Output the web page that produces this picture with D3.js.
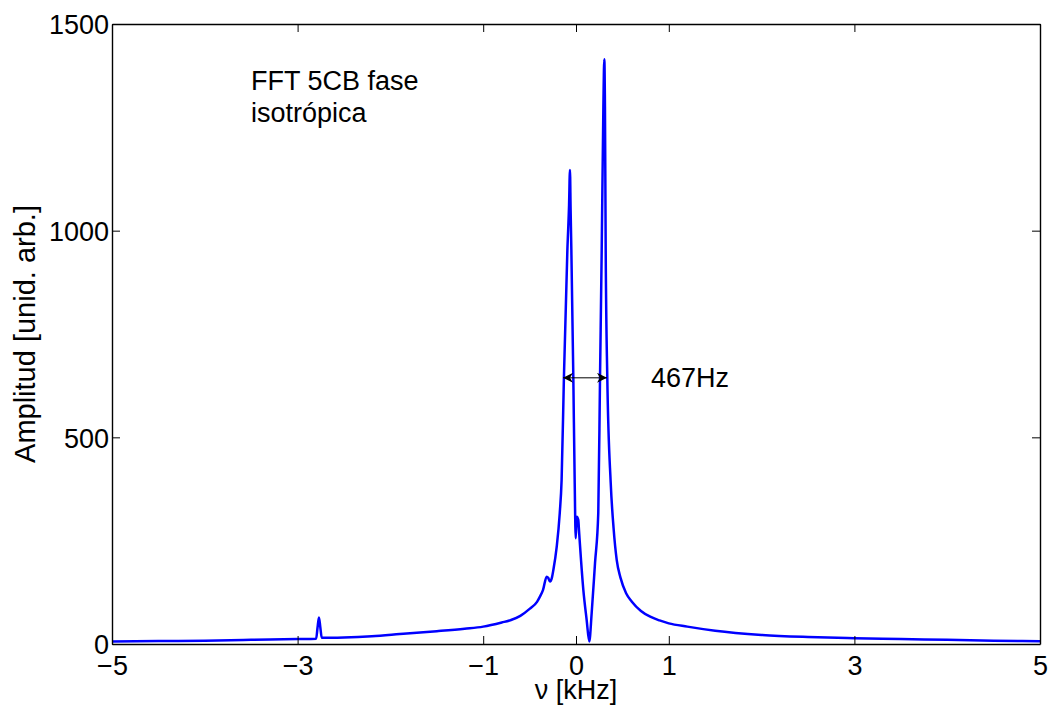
<!DOCTYPE html>
<html>
<head>
<meta charset="utf-8">
<script src="https://cdn.jsdelivr.net/npm/d3@7"></script>
<style>
  html, body { margin: 0; padding: 0; background: #fff; }
  svg text { font-family: "Liberation Sans", Arial, Helvetica, sans-serif; fill: #000; }
</style>
</head>
<body>
<svg id="chart" width="1048" height="707"></svg>
<script>
// Frequency (kHz)
const freqKHz = [
  -5.0, -4.5, -4.0, -3.5, -3.0, -2.8, -2.785, -2.77, -2.755, -2.74, -2.5, -2.2, -1.9, -1.5, -1.2, -1.0,
  -0.8, -0.7, -0.6, -0.5, -0.42, -0.39, -0.355, -0.316, -0.30, -0.28, -0.26, -0.244, -0.208, -0.175,
  -0.155, -0.13, -0.093, -0.075, -0.065, -0.058, -0.05, -0.029, -0.014, -0.003, 0.008, 0.025,
  0.032, 0.079, 0.115, 0.143, 0.169, 0.205, 0.24, 0.259, 0.277, 0.295, 0.305, 0.312, 0.32,
  0.337, 0.374, 0.405, 0.439, 0.48, 0.54, 0.6, 0.7, 0.8, 0.9, 1.0, 1.2, 1.5, 2.0, 2.5, 3.0, 3.5, 4.0, 4.5, 5.0
];
// Amplitude (arb. units)
const amplitude = [
  6, 7, 8, 10, 12, 13, 40, 64, 40, 15, 16, 19, 24, 31, 37, 42,
  52, 58, 68, 85, 102, 114, 131, 163, 160, 151, 160, 179, 235, 317,
  397, 647, 953, 1060, 1147, 1050, 953, 647, 390, 256, 308, 300,
  276, 131, 58, 6, 75, 196, 317, 647, 953, 1300, 1415, 1300, 953,
  647, 390, 280, 203, 160, 123, 103, 80, 66, 57, 50, 42, 32, 22, 17, 14, 12, 10, 8, 6.5
];
const xTicks = [-5, -3, -1, 0, 1, 3, 5];
const yTicks = [0, 500, 1000, 1500];
const annotationLines = ["FFT 5CB fase", "isotrópica"];
const widthLabel = "467Hz";
const arrowRange = [-0.14, 0.334];   // kHz
const arrowLevel = [644];            // amplitude
const xTitle = "ν [kHz]";
const yTitle = "Amplitud [unid. arb.]";

const svg = d3.select("#chart");
const m = { left: 112, right: 1040, top: 24, bottom: 644 };
const x = d3.scaleLinear().domain([-5, 5]).range([m.left, m.right]);
const y = d3.scaleLinear().domain([0, 1500]).range([m.bottom, m.top]);

const fs = 27;
const tickLen = 8;

// Data line
const data = freqKHz.map((f, i) => [f, amplitude[i]]);
svg.append("clipPath").attr("id", "clip").append("rect")
  .attr("x", m.left).attr("y", m.top - 5)
  .attr("width", m.right - m.left).attr("height", m.bottom - m.top + 5);

svg.append("path")
  .datum(data)
  .attr("clip-path", "url(#clip)")
  .attr("fill", "none")
  .attr("stroke", "#0000ff")
  .attr("stroke-width", 2.5)
  .attr("stroke-linejoin", "round")
  .attr("d", d3.line().curve(d3.curveMonotoneX).x(d => x(d[0])).y(d => y(d[1])));

// Axes (MATLAB box style, ticks inward)
const gBottom = svg.append("g").attr("transform", `translate(0,${m.bottom})`)
  .call(d3.axisBottom(x).tickValues(xTicks).tickSizeInner(-tickLen).tickSizeOuter(0)
    .tickFormat(d => d < 0 ? "\u2212" + Math.abs(d) : String(d)));
const gTop = svg.append("g").attr("transform", `translate(0,${m.top})`)
  .call(d3.axisTop(x).tickValues(xTicks).tickSizeInner(-tickLen).tickSizeOuter(0).tickFormat(""));
const gLeft = svg.append("g").attr("transform", `translate(${m.left},0)`)
  .call(d3.axisLeft(y).tickValues(yTicks).tickSizeInner(-tickLen).tickSizeOuter(0).tickFormat(d3.format("d")));
const gRight = svg.append("g").attr("transform", `translate(${m.right},0)`)
  .call(d3.axisRight(y).tickValues(yTicks).tickSizeInner(-tickLen).tickSizeOuter(0).tickFormat(""));

[gBottom, gTop, gLeft, gRight].forEach(g => {
  g.select(".domain").attr("stroke", "#000").attr("stroke-width", 1.4);
  g.selectAll(".tick line").attr("stroke", "#000").attr("stroke-width", 1);
  g.selectAll("text").attr("font-size", fs).attr("font-family", "Liberation Sans, Arial, sans-serif").attr("fill", "#000");
});
gBottom.selectAll(".tick text").attr("dy", null).attr("y", 0)
  .attr("transform", "translate(0,31)");
gLeft.selectAll(".tick text").attr("x", -3).attr("dy", "0.36em");

// Axis titles
svg.append("text")
  .attr("x", (m.left + m.right) / 2).attr("y", 699)
  .attr("text-anchor", "middle").attr("font-size", fs)
  .text(xTitle);
svg.append("text")
  .attr("transform", `translate(35,${(m.top + m.bottom) / 2}) rotate(-90)`)
  .attr("text-anchor", "middle").attr("font-size", 29)
  .text(yTitle);

// Annotation text
annotationLines.forEach((t, i) => {
  svg.append("text").attr("x", 251).attr("y", 90 + i * 32)
    .attr("font-size", fs).text(t);
});

// Arrow (double headed)
const defs = svg.append("defs");
["start", "end"].forEach(k => {
  defs.append("marker").attr("id", "arrow-" + k)
    .attr("viewBox", "0 0 10 10").attr("refX", 10).attr("refY", 5)
    .attr("markerWidth", 12).attr("markerHeight", 10).attr("markerUnits", "userSpaceOnUse")
    .attr("orient", k === "start" ? "auto-start-reverse" : "auto")
    .append("path").attr("d", "M0,0 L10,5 L0,10 L3,5 Z").attr("fill", "#000");
});
svg.append("line")
  .attr("x1", x(arrowRange[0])).attr("x2", x(arrowRange[1]))
  .attr("y1", y(arrowLevel[0])).attr("y2", y(arrowLevel[0]))
  .attr("stroke", "#000").attr("stroke-width", 1)
  .attr("marker-start", "url(#arrow-start)").attr("marker-end", "url(#arrow-end)");
svg.append("text").attr("x", 651).attr("y", 387).attr("font-size", fs).text(widthLabel);
</script>
</body>
</html>
